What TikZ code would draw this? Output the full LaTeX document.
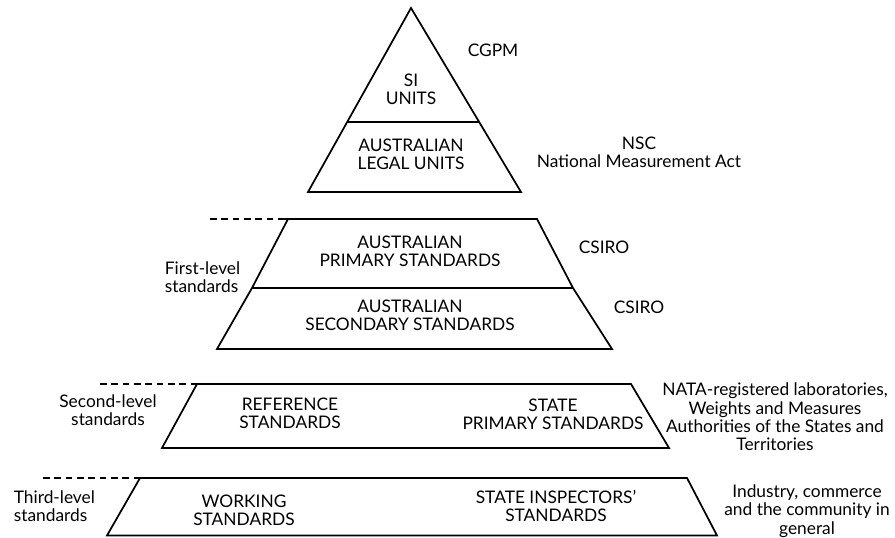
\documentclass[tikz,border=0pt]{standalone}
\usepackage{fontspec}
\setmainfont{Lato}
\begin{document}
\begin{tikzpicture}[x=0.75pt,y=-0.75pt, line width=1.3pt, line join=miter,
  lbl/.style={font=\fontsize{13}{13.8}\selectfont, align=center, inner sep=0pt},
  dashline/.style={line width=1pt, dash pattern=on 5pt off 3.5pt}]
\useasboundingbox (0,0) rectangle (895,538);

% --- top triangle ---
\coordinate (apex) at (411,8);
\coordinate (tbl) at (308,192);
\coordinate (tbr) at (521,192);
\draw (apex) -- (tbr) -- (tbl) -- cycle;
\coordinate (dl) at (347.5,122);
\coordinate (dr) at (479,122);
\draw (dl) -- (dr);

% --- first level ---
\coordinate (f1d) at (210,219);
\coordinate (f1a) at (283,219);
\coordinate (f1b) at (537,219);
\coordinate (f1l) at (288,219);
\coordinate (f2l) at (252,288);
\coordinate (f2r) at (573,288);
\coordinate (f3l) at (217,349);
\coordinate (f3r) at (612,349);
\draw[dashline] (f1d) -- (f1a);
\draw (f1a) -- (f1b) -- (f2r) -- (f3r) -- (f3l) -- (f2l) -- (f1l);
\draw (f2l) -- (f2r);

% --- second level ---
\coordinate (s0) at (100,384);
\coordinate (s1) at (197,384);
\coordinate (s2) at (631,384);
\coordinate (s3) at (669,448);
\coordinate (s4) at (162,448);
\draw[dashline] (s0) -- (s1);
\draw (s1) -- (s2) -- (s3) -- (s4) -- cycle;

% --- third level ---
\coordinate (t0) at (43,478);
\coordinate (t1) at (140,478);
\coordinate (t2) at (687,478);
\coordinate (t3) at (717,535.5);
\coordinate (t4) at (107,535.5);
\draw[dashline] (t0) -- (t1);
\draw (t1) -- (t2) -- (t3) -- (t4) -- cycle;

% --- labels ---
\node[lbl] (si) at (411,89) {SI\\UNITS};
\node[lbl] (alu) at (411,154) {AUSTRALIAN\\LEGAL UNITS};
\node[lbl] (cgpm) at (493,50) {CGPM};
\node[lbl] (nsc) at (639,152) {NSC\\National Measurement Act};

\node[lbl] (aps) at (410,251) {AUSTRALIAN\\PRIMARY STANDARDS};
\node[lbl] (csiro1) at (604,247) {CSIRO};
\node[lbl, align=left, anchor=west] (first) at (164,277) {First-level\\standards};
\node[lbl] (ass) at (410,315) {AUSTRALIAN\\SECONDARY STANDARDS};
\node[lbl] (csiro2) at (639,307) {CSIRO};

\node[lbl] (second) at (108,410) {Second-level\\standards};
\node[lbl] (ref) at (290,413) {REFERENCE\\STANDARDS};
\node[lbl] (sps) at (553,414) {STATE\\PRIMARY STANDARDS};
\node[lbl] (nata) at (775,417) {NATA-registered laboratories,\\Weights and Measures\\Authorities of the States and\\Territories};

\node[lbl, align=left, anchor=west] (third) at (13,506) {Third-level\\standards};
\node[lbl] (work) at (244,510) {WORKING\\STANDARDS};
\node[lbl] (sis) at (556,506) {STATE INSPECTORS'\\STANDARDS};
\node[lbl] (ind) at (807,511) {Industry, commerce\\and the community in\\general};
\end{tikzpicture}
\end{document}
